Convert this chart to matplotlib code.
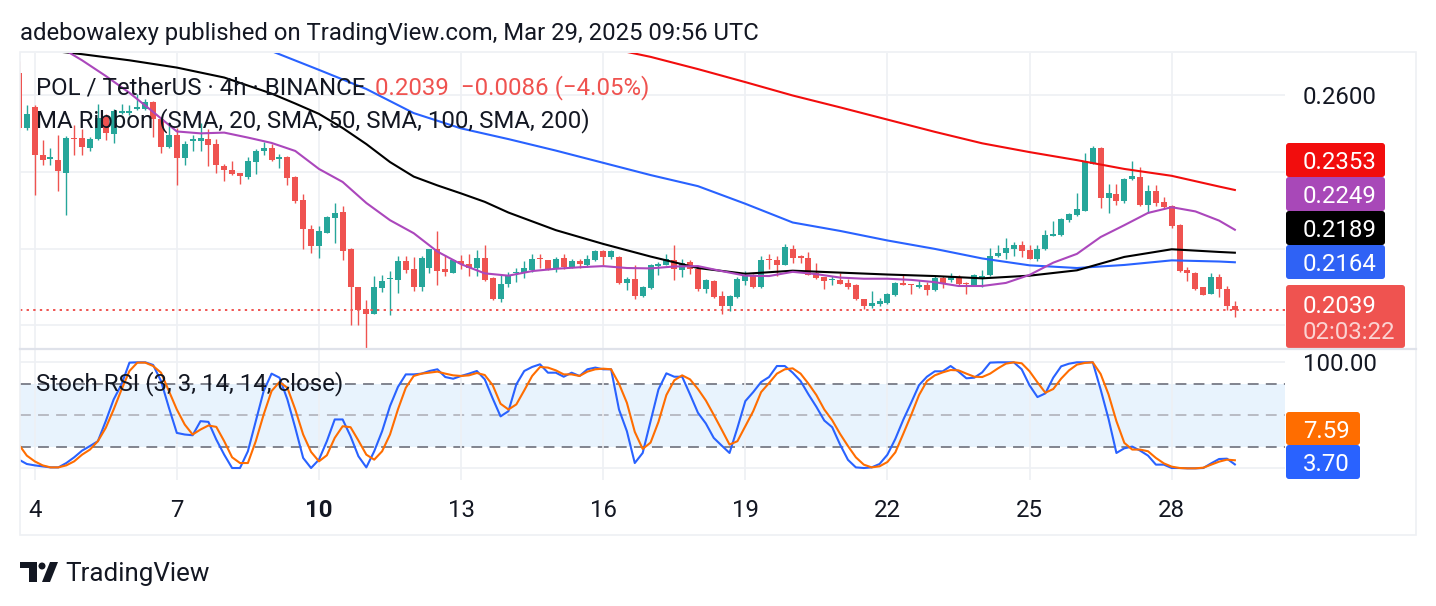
import matplotlib
matplotlib.use('Agg')
import matplotlib.pyplot as plt
import matplotlib.transforms as mtransforms
from matplotlib.patches import FancyBboxPatch, Rectangle, Circle, Polygon
import numpy as np

plt.rcParams['font.family'] = ['Roboto', 'DejaVu Sans']

# POL/USDT 4h candles, Mar 3 16:00 -> Mar 29 08:00
opens = [0.2660, 0.2515,
         0.2570, 0.2444, 0.2434, 0.2431, 0.2398, 0.2489,
         0.2489, 0.2463, 0.2485, 0.2544, 0.2500, 0.2555,
         0.2555, 0.2565, 0.2564, 0.2583, 0.2539, 0.2465,
         0.2496, 0.2437, 0.2480, 0.2480, 0.2485, 0.2474,
         0.2416, 0.2404, 0.2398, 0.2387, 0.2426, 0.2454,
         0.2463, 0.2433, 0.2439, 0.2387, 0.2326, 0.2252,
         0.2207, 0.2241, 0.2281, 0.2295, 0.2199, 0.2099,
         0.2041, 0.2030, 0.2097, 0.2120, 0.2117, 0.2167,
         0.2146, 0.2099, 0.2149, 0.2199, 0.2146, 0.2137,
         0.2167, 0.2160, 0.2149, 0.2175, 0.2123, 0.2069,
         0.2108, 0.2135, 0.2135, 0.2143, 0.2175, 0.2169,
         0.2147, 0.2175, 0.2152, 0.2167, 0.2156, 0.2169,
         0.2193, 0.2178, 0.2178, 0.2111, 0.2120, 0.2076,
         0.2097, 0.2154, 0.2158, 0.2169, 0.2143, 0.2165,
         0.2147, 0.2093, 0.2114, 0.2076, 0.2050, 0.2073,
         0.2114, 0.2132, 0.2099, 0.2172, 0.2169, 0.2158,
         0.2199, 0.2180, 0.2175, 0.2137, 0.2125, 0.2117,
         0.2117, 0.2111, 0.2105, 0.2067, 0.2050, 0.2056,
         0.2058, 0.2079, 0.2111, 0.2106, 0.2099, 0.2105,
         0.2091, 0.2123, 0.2117, 0.2123, 0.2111, 0.2102,
         0.2124, 0.2130, 0.2180, 0.2189, 0.2200, 0.2210,
         0.2195, 0.2172, 0.2198, 0.2233, 0.2235, 0.2275,
         0.2287, 0.2299, 0.2422, 0.2463, 0.2332, 0.2343,
         0.2323, 0.2383, 0.2387, 0.2315, 0.2350, 0.2322,
         0.2311, 0.2262, 0.2143, 0.2137, 0.2099, 0.2082,
         0.2125, 0.2095, 0.2051]
highs = [0.2690, 0.2574,
         0.2574, 0.2483, 0.2463, 0.2496, 0.2493, 0.2524,
         0.2513, 0.2492, 0.2579, 0.2552, 0.2565, 0.2579,
         0.2574, 0.2605, 0.2592, 0.2585, 0.2544, 0.2531,
         0.2515, 0.2480, 0.2496, 0.2528, 0.2513, 0.2485,
         0.2422, 0.2428, 0.2398, 0.2439, 0.2459, 0.2478,
         0.2474, 0.2448, 0.2441, 0.2390, 0.2343, 0.2262,
         0.2259, 0.2284, 0.2320, 0.2311, 0.2201, 0.2100,
         0.2065, 0.2128, 0.2132, 0.2140, 0.2180, 0.2180,
         0.2178, 0.2180, 0.2200, 0.2245, 0.2184, 0.2172,
         0.2182, 0.2186, 0.2195, 0.2210, 0.2125, 0.2134,
         0.2139, 0.2149, 0.2167, 0.2186, 0.2186, 0.2170,
         0.2178, 0.2186, 0.2173, 0.2173, 0.2184, 0.2195,
         0.2195, 0.2195, 0.2180, 0.2125, 0.2156, 0.2101,
         0.2160, 0.2165, 0.2186, 0.2210, 0.2173, 0.2169,
         0.2149, 0.2119, 0.2117, 0.2088, 0.2078, 0.2125,
         0.2140, 0.2134, 0.2180, 0.2186, 0.2180, 0.2213,
         0.2210, 0.2182, 0.2191, 0.2163, 0.2126, 0.2128,
         0.2137, 0.2121, 0.2107, 0.2069, 0.2088, 0.2071,
         0.2083, 0.2112, 0.2134, 0.2108, 0.2118, 0.2112,
         0.2128, 0.2128, 0.2137, 0.2132, 0.2112, 0.2134,
         0.2143, 0.2201, 0.2210, 0.2227, 0.2217, 0.2219,
         0.2210, 0.2210, 0.2248, 0.2271, 0.2280, 0.2294,
         0.2346, 0.2450, 0.2468, 0.2465, 0.2369, 0.2369,
         0.2384, 0.2428, 0.2413, 0.2365, 0.2367, 0.2335,
         0.2315, 0.2263, 0.2152, 0.2139, 0.2100, 0.2137,
         0.2134, 0.2102, 0.2062]
lows = [0.2510, 0.2509,
        0.2341, 0.2418, 0.2418, 0.2350, 0.2288, 0.2444,
        0.2445, 0.2454, 0.2483, 0.2483, 0.2477, 0.2552,
        0.2548, 0.2561, 0.2561, 0.2492, 0.2450, 0.2463,
        0.2367, 0.2419, 0.2454, 0.2454, 0.2416, 0.2398,
        0.2376, 0.2393, 0.2369, 0.2381, 0.2396, 0.2445,
        0.2428, 0.2410, 0.2367, 0.2320, 0.2198, 0.2189,
        0.2175, 0.2240, 0.2215, 0.2169, 0.1999, 0.1999,
        0.1940, 0.2029, 0.2086, 0.2027, 0.2084, 0.2137,
        0.2088, 0.2088, 0.2137, 0.2104, 0.2128, 0.2135,
        0.2147, 0.2128, 0.2128, 0.2114, 0.2065, 0.2060,
        0.2099, 0.2112, 0.2123, 0.2139, 0.2149, 0.2143,
        0.2139, 0.2147, 0.2149, 0.2149, 0.2152, 0.2167,
        0.2156, 0.2173, 0.2108, 0.2091, 0.2069, 0.2073,
        0.2095, 0.2130, 0.2156, 0.2117, 0.2125, 0.2134,
        0.2088, 0.2084, 0.2071, 0.2030, 0.2036, 0.2071,
        0.2104, 0.2098, 0.2097, 0.2147, 0.2128, 0.2156,
        0.2163, 0.2163, 0.2130, 0.2120, 0.2095, 0.2104,
        0.2106, 0.2095, 0.2065, 0.2041, 0.2044, 0.2051,
        0.2056, 0.2076, 0.2104, 0.2082, 0.2097, 0.2079,
        0.2090, 0.2097, 0.2112, 0.2105, 0.2082, 0.2101,
        0.2099, 0.2128, 0.2178, 0.2172, 0.2180, 0.2178,
        0.2172, 0.2167, 0.2196, 0.2232, 0.2233, 0.2269,
        0.2285, 0.2298, 0.2421, 0.2306, 0.2294, 0.2315,
        0.2320, 0.2378, 0.2311, 0.2294, 0.2311, 0.2306,
        0.2254, 0.2139, 0.2114, 0.2092, 0.2078, 0.2081,
        0.2073, 0.2038, 0.2021]
closes = [0.2515, 0.2552,
          0.2444, 0.2431, 0.2439, 0.2402, 0.2489, 0.2485,
          0.2465, 0.2485, 0.2541, 0.2503, 0.2559, 0.2559,
          0.2559, 0.2570, 0.2583, 0.2539, 0.2465, 0.2496,
          0.2437, 0.2474, 0.2485, 0.2489, 0.2471, 0.2418,
          0.2404, 0.2396, 0.2390, 0.2428, 0.2454, 0.2463,
          0.2431, 0.2439, 0.2384, 0.2323, 0.2250, 0.2207,
          0.2245, 0.2282, 0.2293, 0.2193, 0.2099, 0.2038,
          0.2030, 0.2099, 0.2114, 0.2124, 0.2167, 0.2143,
          0.2099, 0.2175, 0.2199, 0.2140, 0.2139, 0.2169,
          0.2160, 0.2149, 0.2175, 0.2117, 0.2069, 0.2108,
          0.2132, 0.2139, 0.2149, 0.2173, 0.2172, 0.2147,
          0.2172, 0.2152, 0.2167, 0.2160, 0.2172, 0.2193,
          0.2178, 0.2193, 0.2111, 0.2121, 0.2076, 0.2099,
          0.2156, 0.2160, 0.2172, 0.2146, 0.2163, 0.2146,
          0.2093, 0.2117, 0.2073, 0.2050, 0.2076, 0.2120,
          0.2130, 0.2099, 0.2169, 0.2169, 0.2156, 0.2204,
          0.2175, 0.2175, 0.2132, 0.2123, 0.2114, 0.2121,
          0.2108, 0.2099, 0.2067, 0.2050, 0.2058, 0.2062,
          0.2082, 0.2111, 0.2105, 0.2104, 0.2105, 0.2091,
          0.2123, 0.2111, 0.2125, 0.2108, 0.2108, 0.2130,
          0.2128, 0.2180, 0.2189, 0.2201, 0.2210, 0.2193,
          0.2173, 0.2198, 0.2235, 0.2239, 0.2278, 0.2291,
          0.2304, 0.2426, 0.2463, 0.2332, 0.2346, 0.2323,
          0.2383, 0.2390, 0.2313, 0.2350, 0.2320, 0.2308,
          0.2259, 0.2140, 0.2137, 0.2093, 0.2079, 0.2125,
          0.2095, 0.2050, 0.2039]

# MA ribbon, sampled at candle positions
sma20_at = [2, 5, 8, 11, 14, 17, 20, 23, 26, 29, 32, 35, 38, 41, 44, 47, 50, 53, 56, 59,
            62, 65, 68, 71, 74, 77, 80, 83, 86, 89, 92, 95, 98, 101, 104, 107, 110, 113,
            116, 119, 122, 125, 128, 131, 134, 137, 140, 143, 146, 149, 152, 154]
sma20 = [0.2766, 0.2729, 0.2692, 0.2651, 0.2607, 0.2557, 0.2506, 0.2501, 0.2503, 0.2490,
         0.2476, 0.2455, 0.2408, 0.2374, 0.2319, 0.2274, 0.2240, 0.2192, 0.2159, 0.2135,
         0.2129, 0.2141, 0.2147, 0.2151, 0.2154, 0.2149, 0.2148, 0.2153, 0.2154, 0.2141,
         0.2129, 0.2128, 0.2139, 0.2133, 0.2124, 0.2121, 0.2121, 0.2118, 0.2112, 0.2102,
         0.2102, 0.2110, 0.2131, 0.2163, 0.2186, 0.2230, 0.2261, 0.2293, 0.2308, 0.2297,
         0.2273, 0.2249]
sma50_at = [2, 8, 14, 20, 26, 32, 35, 38, 41, 44, 47, 50, 53, 56, 59, 62, 68, 74, 80, 86,
            92, 98, 104, 110, 116, 122, 128, 134, 140, 146, 152, 154]
sma50 = [0.2722, 0.2708, 0.2692, 0.2673, 0.2647, 0.2605, 0.2579, 0.2552, 0.2515, 0.2473,
         0.2426, 0.2388, 0.2365, 0.2344, 0.2322, 0.2294, 0.2248, 0.2212, 0.2179, 0.2149,
         0.2134, 0.2142, 0.2137, 0.2132, 0.2128, 0.2122, 0.2129, 0.2143, 0.2178, 0.2198,
         0.2191, 0.2189]
sma100_at = [20, 26, 32, 38, 44, 50, 56, 62, 68, 74, 80, 86, 92, 98, 104, 110, 116, 122,
             128, 134, 140, 146, 152, 154]
sma100 = [0.2803, 0.2761, 0.2716, 0.2667, 0.2617, 0.2554, 0.2514, 0.2486, 0.2456, 0.2424,
          0.2392, 0.2363, 0.2317, 0.2268, 0.2246, 0.2221, 0.2199, 0.2174, 0.2156, 0.2149,
          0.2157, 0.2169, 0.2166, 0.2164]
sma200_at = [56, 62, 68, 74, 80, 86, 92, 98, 104, 110, 116, 122, 128, 134, 140, 146, 152, 154]
sma200 = [0.2824, 0.2790, 0.2758, 0.2727, 0.2701, 0.2669, 0.2635, 0.2600, 0.2569, 0.2537,
          0.2505, 0.2475, 0.2452, 0.2431, 0.2408, 0.2390, 0.2362, 0.2353]

# Stoch RSI (3, 3, 14, 14)
stoch_k = [8.2, 4.1, 2.8, 1.9, 0.9, 0.9, 5.0, 10.4, 16.7, 21, 25.6, 44.5, 65, 79.2, 99.7, 100,
           100, 97.5, 82.3, 57.1, 33.4, 31.9, 31.2, 44.5, 43.8, 27.1, 12.9, 0.3, 0.3, 16.1,
           44.5, 72.9, 89.3, 85.5, 65, 38.2, 9.8, 0.3, 8.2, 25.6, 46.1, 46.1, 30.3, 11.4, 0.9,
           16.1, 35, 58.7, 76.7, 88.6, 88.6, 89.3, 91.8,
           93.4, 86.1, 84.5, 87.1, 89.3, 91.8, 83.9, 66, 49, 53.9, 79.2, 91.8, 95.6, 98.1,
           90.2, 90.2, 86.4, 90.2, 87.1, 93.4, 95, 93.4, 93.4, 55.5, 35, 5, 14.5, 44.5, 74.4,
           89.6, 86.4, 86.4, 69.7, 52.4, 42.3, 28.7, 21.5, 14.5, 38.2, 63.4, 71.9, 81.4, 86.1,
           96.5, 96.5, 90.2, 82.3, 69.7, 58, 45.1, 38.8, 22.4, 8,
           0.9, 0.3, 0.9, 4.1, 12.9, 27.8, 45.7, 61.8, 78.5, 86.4, 91.5, 91.5, 96.5, 91.2,
           84.9, 85.5, 90.5, 99.7, 100, 100, 100, 93.4, 78.2, 67.2, 70.7, 85.5, 96.2, 98.7,
           100, 100, 100, 74.4, 46.7, 14.5, 18.9, 20.5, 16.7, 12, 3.5, 3.5, 0.3, 0.3, 0, 0,
           0.3, 4.7, 8.8, 9.1, 3.7]
stoch_d = [22.4, 12, 6.6, 2.8, 0.9, 0.9, 2.8, 6.6, 12.9, 17.7, 25.6, 38.2, 55.5, 74.4, 91.8,
           99.7, 99.7, 96.5, 90.2, 72.9, 55.5, 41.3, 31.9, 36.6, 40.4, 39.1, 25.6, 10.4, 5, 5,
           25.6, 50.8, 72.9, 81.4, 76, 55.5, 31.9, 15.5, 6.6, 12.3, 28.7, 39.7, 38.8, 26.2,
           12.9, 8.2, 16.1, 31.9, 55.5, 76, 87.1, 89.3, 90.2,
           91.2, 89.3, 87.7, 87.1, 87.7, 89.9, 88, 78.5, 60.9, 55.5, 60.3, 73.5, 87.1, 95.6,
           95, 92.4, 88.6, 88.6, 87.1, 91.2, 93.4, 94, 93.4, 79.8, 61.8, 34.4, 18.3, 24.3,
           43.8, 69.1, 83, 87.7, 83.9, 74.8, 64, 50.5, 36.6, 22.4, 25.6, 39.7, 53.9, 71.9,
           80.4, 89.3, 93.4, 94.3, 89.3, 79.8, 69.1, 55.5, 45.4, 32.5, 21,
           10.4, 3.5, 0.9, 1.9, 6, 15.1, 32.5, 50.2, 69.1, 82.3, 87.7, 90.5, 92.7, 92.4, 89.3,
           86.4, 86.1, 89.3, 94.3, 98.7, 100, 99.1, 91.5, 81.1, 71.3, 74.8, 84.6, 92.4, 97.8,
           99.4, 100, 89, 69.7, 44.5, 24, 17.7, 17.7, 16.1, 9.8, 4.7, 1.6, 0.3, 0, 0, 0.6,
           3.5, 6.3, 8.2, 7.6]

day_at = [2, 20, 38, 56, 74, 92, 110, 128, 146]
day_labels = ['4', '7', '10', '13', '16', '19', '22', '25', '28']

last_price = 0.2039

UP, DOWN = '#26a69a', '#ef5350'
C20, C50, C100, C200 = '#ab47bc', '#000000', '#2962ff', '#f20d0d'
TEXT = '#131722'
GRID = '#eef0f4'
FS = 17.3
DY = 2.5  # text baseline nudge

W, H = 1436, 606
fig = plt.figure(figsize=(W / 100, H / 100), dpi=100)
# pixel coordinates, origin top-left
px = mtransforms.Affine2D().scale(1 / W, -1 / H).translate(0, 1) + fig.transFigure


def axes_px(x0, y0, x1, y1):
    return fig.add_axes([x0 / W, 1 - y1 / H, (x1 - x0) / W, (y1 - y0) / H])


ax = axes_px(20, 53, 1285, 348)
rsi = axes_px(20, 350, 1285, 480)
xlim = (0.138, 160.35)

# ---- price pane
o = np.array(opens)
c = np.array(closes)
idx = np.arange(len(c))
cols = np.where(c >= o, UP, DOWN)
ax.vlines(idx, lows, highs, colors=cols, lw=1.0, zorder=2)
ax.bar(idx, np.maximum(np.abs(c - o), 0.00012), bottom=np.minimum(o, c), width=0.76,
       color=cols, linewidth=0, zorder=2)

ax.plot(sma200_at, sma200, color=C200, lw=1.5, zorder=3)
ax.plot(sma100_at, sma100, color=C100, lw=1.5, zorder=3)
ax.plot(sma50_at, sma50, color=C50, lw=1.5, zorder=3)
ax.plot(sma20_at, sma20, color=C20, lw=1.5, zorder=3)
ax.axhline(last_price, color=DOWN, lw=1.4, ls=(0, (1.2, 2.2)), zorder=3)

ax.set_xlim(*xlim)
ax.set_ylim(0.19399, 0.27111)
ax.set_xticks(day_at)
ax.set_xticklabels([])
ax.set_yticks([0.20, 0.22, 0.24, 0.26])
ax.yaxis.tick_right()
ax.set_yticklabels(['', '', '', '0.2600'], fontsize=FS, color=TEXT)
ax.tick_params(length=0, pad=13)
ax.grid(True, color=GRID, lw=1.2, zorder=0)

# ---- stoch RSI pane
rsi.axhspan(20, 80, color='#e8f3fd', lw=0, zorder=0)
for lvl, col in [(80, '#787b86'), (50, '#b5b7bf'), (20, '#787b86')]:
    rsi.axhline(lvl, color=col, lw=1.3, ls=(0, (6, 4)), zorder=1)
rsi.plot(idx, stoch_k, color='#2962ff', lw=1.5, zorder=3)
rsi.plot(idx, stoch_d, color='#ff6d00', lw=1.5, zorder=3)
rsi.set_xlim(*xlim)
rsi.set_ylim(-11.0, 111.6)
rsi.set_yticks([0, 100])
rsi.yaxis.tick_right()
rsi.set_yticklabels(['', '100.00'], fontsize=FS, color=TEXT)
rsi.set_xticks(day_at)
rsi.set_xticklabels(day_labels, fontsize=FS, color=TEXT)
rsi.get_xticklabels()[2].set_fontweight('bold')
rsi.tick_params(axis='y', length=0, pad=13)
rsi.tick_params(axis='x', length=0, pad=14)
rsi.grid(True, color=GRID, lw=1.2, zorder=0)

for a in (ax, rsi):
    for s in a.spines.values():
        s.set_visible(False)
    a.set_facecolor('none')

# frame and pane separator
fig.add_artist(Rectangle((20, 52), 1396, 483, transform=px, fill=False, ec='#eef0f4', lw=1.2))
fig.add_artist(plt.Line2D([20, 1416], [348.5, 348.5], transform=px, color='#dfe2ea', lw=1.6))

# ---- texts
fig.text(20, 31 + DY, 'adebowalexy published on TradingView.com, Mar 29, 2025 09:56 UTC',
         transform=px, fontsize=17.2, color=TEXT, va='center')
fig.text(36, 85 + DY, 'POL / TetherUS · 4h · BINANCE', transform=px, fontsize=FS, color=TEXT,
         va='center')
fig.text(375, 85 + DY, '0.2039  \u22120.0086 (\u22124.05%)', transform=px, fontsize=FS,
         color=DOWN, va='center')
fig.text(36, 118 + DY, 'MA Ribbon (SMA, 20, SMA, 50, SMA, 100, SMA, 200)', transform=px,
         fontsize=FS, color=TEXT, va='center')
fig.text(36, 381 + DY, 'Stoch RSI (3, 3, 14, 14, close)', transform=px, fontsize=FS,
         color=TEXT, va='center')


def tag(x0, y0, x1, y1, color, label, sub=None):
    fig.add_artist(FancyBboxPatch((x0, y0), x1 - x0, y1 - y0, transform=px,
                                  boxstyle='round,pad=0,rounding_size=3', fc=color, ec='none'))
    if sub is None:
        fig.text(1303, (y0 + y1) / 2 + DY, label, transform=px, fontsize=FS, color='white',
                 va='center')
    else:
        fig.text(1303, y0 + 19 + DY, label, transform=px, fontsize=FS, color='white',
                 va='center')
        fig.text(1303, y0 + 45 + DY, sub, transform=px, fontsize=FS, color='#fbd3d2',
                 va='center')


tag(1286, 143, 1385, 177, C200, '0.2353')
tag(1286, 177, 1385, 211, '#a848b8', '0.2249')
tag(1286, 211, 1385, 245, C50, '0.2189')
tag(1286, 245, 1385, 279, '#2f62f5', '0.2164')
tag(1286, 285, 1405, 348, DOWN, '0.2039', '02:03:22')
tag(1286, 412, 1360, 445, '#ff6d00', '7.59')
tag(1286, 445, 1360, 479, '#2962ff', '3.70')

# ---- TradingView logo
fig.add_artist(Polygon([(20, 562), (37, 562), (37, 582), (29, 582), (29, 568), (20, 568)],
                       closed=True, transform=px, fc=TEXT, ec='none'))
fig.add_artist(Circle((42, 566), 3.5, transform=px, fc=TEXT, ec='none'))
fig.add_artist(Polygon([(50, 562), (58, 562), (50, 582), (42, 582)], closed=True,
                       transform=px, fc=TEXT, ec='none'))
fig.text(65, 572 + DY, 'TradingView', transform=px, fontsize=18.7, color=TEXT, va='center')

fig.savefig('out.png', dpi=100, facecolor='white')
